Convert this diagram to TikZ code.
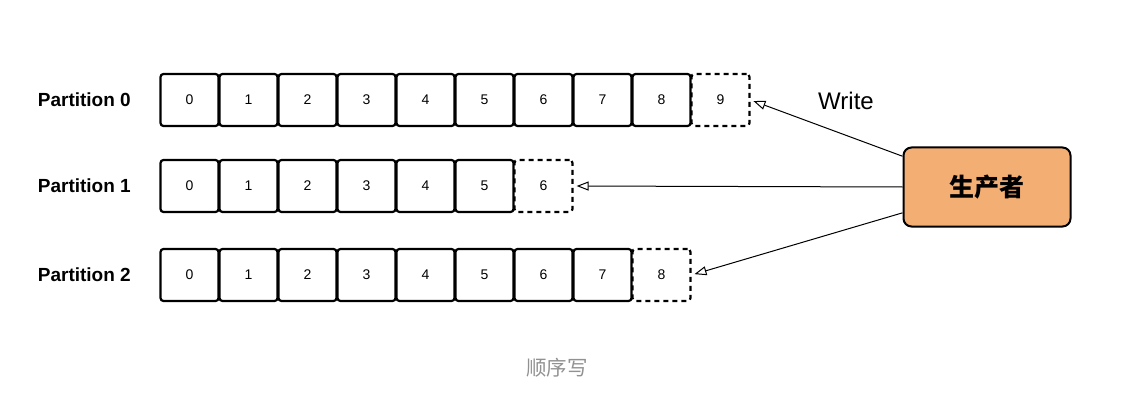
\documentclass[tikz,border=0pt]{standalone}
\usepackage{fontspec}
\setmainfont{Liberation Sans}
\newfontfamily\cjk{Noto Sans CJK SC}
\usepackage{tikz}
\usetikzlibrary{arrows.meta,positioning}
\definecolor{producerOrange}{RGB}{243,174,115}
\definecolor{captionGray}{RGB}{145,145,145}

\begin{document}
\begin{tikzpicture}[x=1pt,y=-1pt,
    cell/.style={draw, line width=2.2pt, rounded corners=3pt,
      minimum width=58pt, minimum height=52pt, inner sep=0pt,
      font=\fontsize{14}{16}\selectfont},
    newcell/.style={cell, dash pattern=on 5pt off 4pt},
    plabel/.style={anchor=east, inner sep=0pt, font=\fontsize{19}{22}\selectfont\bfseries},
    >={Triangle[open,length=12pt,width=9pt]}
  ]
  \useasboundingbox (0,0) rectangle (1122,401);
  % partitions
  \foreach \r/\m/\n/\y in {0/8/9/100, 1/5/6/186, 2/7/8/275} {
    \node[plabel] (label\r) at (131,\y) {Partition \r};
    \foreach \i in {0,...,\m}
      \node[cell] (p\r-\i) at (189.5+59*\i,\y) {\i};
    \node[newcell] (p\r-\n) at (189.5+59*\n,\y) {\n};
  }
  % producer
  \node[draw, line width=2pt, fill=producerOrange, rounded corners=8pt,
    minimum width=167pt, minimum height=79pt,
    font=\cjk\fontsize{25}{30}\selectfont\bfseries] (prod) at (987,187) {生产者};
  \draw[->, line width=1pt, shorten >=3pt] (prod.160) -- (p0-9.east);
  \draw[->, line width=1pt, shorten >=3pt] (prod.west) -- (p1-6.east);
  \draw[->, line width=1pt, shorten >=3pt] (prod.197) -- (p2-8.east);
  \node[font=\fontsize{24}{28}\selectfont] (write) at (846,101) {Write};
  \node[text=captionGray, font=\cjk\fontsize{20.5}{24}\selectfont] (caption) at (557,368) {顺序写};
\end{tikzpicture}
\end{document}
